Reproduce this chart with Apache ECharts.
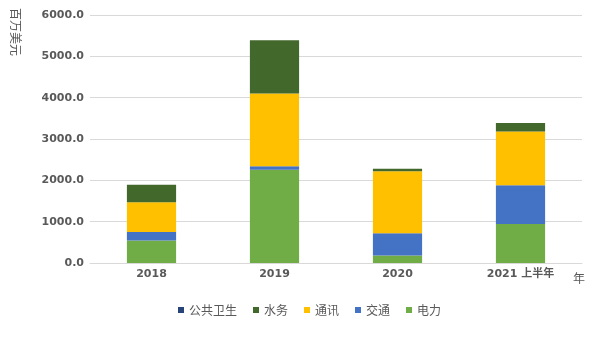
<!DOCTYPE html>
<html><head><meta charset="utf-8">
<script src="https://cdn.jsdelivr.net/npm/echarts@6/dist/echarts.min.js"></script>
<style>html,body{margin:0;padding:0;background:#fff}#c{width:600px;height:338px}</style>
</head><body><div id="c"></div>
<script>
var categories = ['2018', '2019', '2020', '2021 上半年'];
var yTicks = [0, 1000, 2000, 3000, 4000, 5000, 6000];
var power = [547, 2259, 184, 944];
var transport = [203, 80, 533, 935];
var telecom = [717, 1760, 1501, 1300];
var water = [429, 1291, 65, 211];
var health = [0, 0, 0, 0];

var names = ['电力', '交通', '通讯', '水务', '公共卫生'];
var values = [power, transport, telecom, water, health];
var colors = ['#70AD47', '#4472C4', '#FFC000', '#43682B', '#264478'];

var chart = echarts.init(document.getElementById('c'));
var series = names.map(function (n, i) {
  return {
    name: n, type: 'bar', stack: 'total', data: values[i],
    barWidth: '40%', itemStyle: { color: colors[i] }
  };
});
chart.setOption({
  animation: false,
  textStyle: { fontFamily: 'Noto Sans CJK SC, DejaVu Sans, sans-serif' },
  grid: { left: 90, right: 18, top: 15, bottom: 75 },
  legend: {
    data: ['公共卫生', '水务', '通讯', '交通', '电力'],
    bottom: 17, left: 173,
    icon: 'rect', itemWidth: 6, itemHeight: 6, itemGap: 16,
    textStyle: { color: '#595959', fontSize: 12, fontFamily: 'Noto Sans CJK SC' }
  },
  xAxis: {
    type: 'category', data: categories,
    axisLine: { lineStyle: { color: '#d9d9d9' } },
    axisTick: { show: false },
    axisLabel: {
      color: '#595959', fontWeight: 'bold', fontSize: 11, margin: 6,
      fontFamily: 'DejaVu Sans, Noto Sans CJK SC, sans-serif'
    }
  },
  yAxis: {
    type: 'value', min: yTicks[0], max: yTicks[yTicks.length - 1], interval: 1000,
    axisLine: { show: false }, axisTick: { show: false },
    splitLine: { lineStyle: { color: '#d9d9d9' } },
    axisLabel: {
      color: '#595959', fontWeight: 'bold', fontSize: 11, margin: 6,
      fontFamily: 'DejaVu Sans, sans-serif',
      formatter: function (v) { return v.toFixed(1); }
    }
  },
  graphic: [{
    type: 'text', x: 22, y: 8, rotation: -Math.PI / 2,
    style: { text: '百万美元', fill: '#595959', fontSize: 12, fontFamily: 'Noto Sans CJK SC', textVerticalAlign: 'top' }
  }, {
    type: 'text', x: 573, y: 272,
    style: { text: '年', fill: '#595959', fontSize: 12, fontFamily: 'Noto Sans CJK SC', textVerticalAlign: 'top' }
  }],
  series: series
});
</script></body></html>
